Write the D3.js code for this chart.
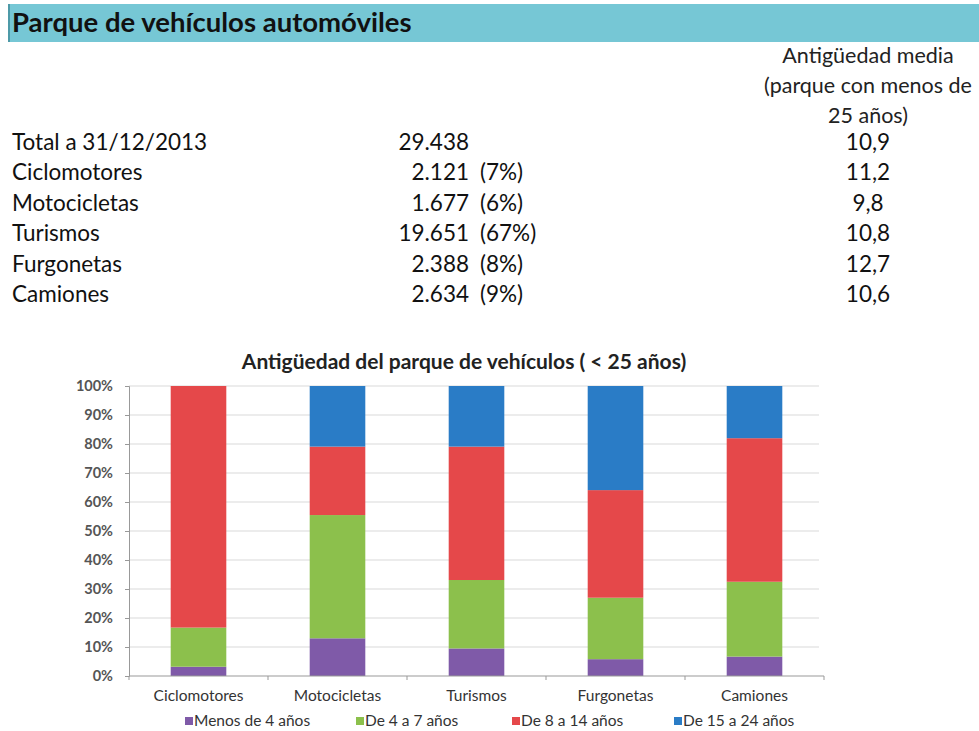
<!DOCTYPE html>
<html>
<head>
<meta charset="utf-8">
<script src="https://cdn.jsdelivr.net/npm/d3@7"></script>
<style>
  body { margin: 0; background: #fff; }
  svg text { font-family: Lato, "Open Sans", sans-serif; }
</style>
</head>
<body>
<svg></svg>
<script>
// table data
var rowLabels = ["Total a 31/12/2013", "Ciclomotores", "Motocicletas", "Turismos", "Furgonetas", "Camiones"];
var rowCounts = ["29.438", "2.121", "1.677", "19.651", "2.388", "2.634"];
var rowShares = ["", "(7%)", "(6%)", "(67%)", "(8%)", "(9%)"];
var rowAge = ["10,9", "11,2", "9,8", "10,8", "12,7", "10,6"];

// chart data (percent of each vehicle type)
var categories = ["Ciclomotores", "Motocicletas", "Turismos", "Furgonetas", "Camiones"];
var seriesNames = ["Menos de 4 años", "De 4 a 7 años", "De 8 a 14 años", "De 15 a 24 años"];
var menos4 = [3.2, 13.0, 9.5, 5.8, 6.7];
var de4a7 = [13.5, 42.5, 23.6, 21.2, 25.8];
var de8a14 = [83.3, 23.6, 46.0, 37.1, 49.5];
var de15a24 = [0, 20.9, 20.9, 35.9, 18.0];
var yTicks = [0, 10, 20, 30, 40, 50, 60, 70, 80, 90, 100];
var colors = ["#7f5aa8", "#8cc04c", "#e5484a", "#2a7cc6"];

var screen = {width: 979, height: 731};
var svg = d3.select("svg")
  .attr("width", screen.width)
  .attr("height", screen.height);

// header bar
svg.append("rect")
  .attr("x", 8).attr("y", 4)
  .attr("width", 971).attr("height", 38)
  .attr("fill", "#76c7d5");
svg.append("rect")
  .attr("x", 8).attr("y", 4)
  .attr("width", 2).attr("height", 38)
  .attr("fill", "#4e9aa8");
svg.append("text")
  .attr("x", 12).attr("y", 32)
  .attr("font-size", 27.5).attr("font-weight", "bold")
  .attr("fill", "#111")
  .text("Parque de vehículos automóviles");

// right column header
var headLines = ["Antigüedad media", "(parque con menos de", "25 años)"];
svg.selectAll(".head")
  .data(headLines)
  .enter()
  .append("text")
  .attr("class", "head")
  .attr("x", 868)
  .attr("y", function(d, i){ return 63 + i * 30; })
  .attr("text-anchor", "middle")
  .attr("font-size", 21.5)
  .attr("fill", "#222")
  .text(function(d){ return d; });

var rowY = d3.scaleLinear().domain([0, 5]).range([150, 302]);

var rows = svg.selectAll(".row")
  .data(rowLabels)
  .enter()
  .append("g")
  .attr("class", "row")
  .attr("transform", function(d, i){ return "translate(0," + rowY(i) + ")"; });

rows.append("text")
  .attr("x", 12)
  .attr("font-size", 22.5)
  .attr("fill", "#111")
  .text(function(d){ return d; });
rows.append("text")
  .attr("x", 469)
  .attr("text-anchor", "end")
  .attr("font-size", 22.5)
  .attr("fill", "#111")
  .text(function(d, i){ return rowCounts[i]; });
rows.append("text")
  .attr("x", 480)
  .attr("font-size", 22.5)
  .attr("fill", "#111")
  .text(function(d, i){ return rowShares[i]; });
rows.append("text")
  .attr("x", 868)
  .attr("text-anchor", "middle")
  .attr("font-size", 22.5)
  .attr("fill", "#111")
  .text(function(d, i){ return rowAge[i]; });

// chart
var plot = {left: 129, right: 824, top: 386, bottom: 676};

var xScale = d3.scaleBand()
  .domain(categories)
  .range([plot.left, plot.right])
  .paddingInner(0.6)
  .paddingOuter(0.3);

var yScale = d3.scaleLinear()
  .domain([0, 100])
  .range([plot.bottom, plot.top]);

svg.append("text")
  .attr("x", 464).attr("y", 369)
  .attr("text-anchor", "middle")
  .attr("font-size", 21).attr("font-weight", "bold")
  .attr("fill", "#222")
  .text("Antigüedad del parque de vehículos ( < 25 años)");

// gridlines
svg.append("g")
  .selectAll("line")
  .data(yTicks.slice(1))
  .enter()
  .append("line")
  .attr("x1", plot.left).attr("x2", 819)
  .attr("y1", function(d){ return yScale(d); })
  .attr("y2", function(d){ return yScale(d); })
  .attr("stroke", "#d9d9d9");

var yAxis = svg.append("g")
  .attr("transform", "translate(" + plot.left + ",0)")
  .call(d3.axisLeft(yScale).tickValues(yTicks).tickSize(4).tickPadding(12)
    .tickFormat(function(d){ return d + "%"; }));
yAxis.select(".domain").attr("stroke", "#999");
yAxis.selectAll(".tick line").attr("stroke", "#999");
yAxis.selectAll("text")
  .attr("font-size", 14.5).attr("font-weight", "bold")
  .attr("fill", "#555")
  .style("font-family", "Lato, sans-serif");

// stacked bars
var table = categories.map(function(c, i){
  return {cat: c, s0: menos4[i], s1: de4a7[i], s2: de8a14[i], s3: de15a24[i]};
});
var stack = d3.stack().keys(["s0", "s1", "s2", "s3"])(table);

svg.append("g")
  .selectAll("g")
  .data(stack)
  .enter()
  .append("g")
  .attr("fill", function(d, i){ return colors[i]; })
  .selectAll("rect")
  .data(function(d){ return d; })
  .enter()
  .append("rect")
  .attr("x", function(d){ return xScale(d.data.cat); })
  .attr("width", xScale.bandwidth())
  .attr("y", function(d){ return yScale(d[1]); })
  .attr("height", function(d){ return yScale(d[0]) - yScale(d[1]); });

// x axis with tick marks at category boundaries
var step = xScale.step();
var xAxis = svg.append("g")
  .attr("transform", "translate(0," + plot.bottom + ")");
xAxis.append("line")
  .attr("x1", plot.left).attr("x2", plot.right)
  .attr("stroke", "#999");
xAxis.selectAll(".xt")
  .data(d3.range(categories.length + 1))
  .enter()
  .append("line")
  .attr("class", "xt")
  .attr("x1", function(d){ return plot.left + d * step; })
  .attr("x2", function(d){ return plot.left + d * step; })
  .attr("y1", 0).attr("y2", 4)
  .attr("stroke", "#999");
xAxis.selectAll(".xl")
  .data(categories)
  .enter()
  .append("text")
  .attr("class", "xl")
  .attr("x", function(d){ return xScale(d) + xScale.bandwidth() / 2; })
  .attr("y", 25)
  .attr("text-anchor", "middle")
  .attr("font-size", 15.5)
  .attr("fill", "#333")
  .text(function(d){ return d; });

// legend
var legendX = [185, 356, 512, 674];
var legend = svg.selectAll(".leg")
  .data(seriesNames)
  .enter()
  .append("g")
  .attr("class", "leg")
  .attr("transform", function(d, i){ return "translate(" + legendX[i] + ",721)"; });
legend.append("rect")
  .attr("x", 0).attr("y", -4)
  .attr("width", 8).attr("height", 8)
  .attr("fill", function(d, i){ return colors[i]; });
legend.append("text")
  .attr("x", 9).attr("y", 5)
  .attr("font-size", 15.5)
  .attr("fill", "#333")
  .text(function(d){ return d; });
</script>
</body>
</html>
